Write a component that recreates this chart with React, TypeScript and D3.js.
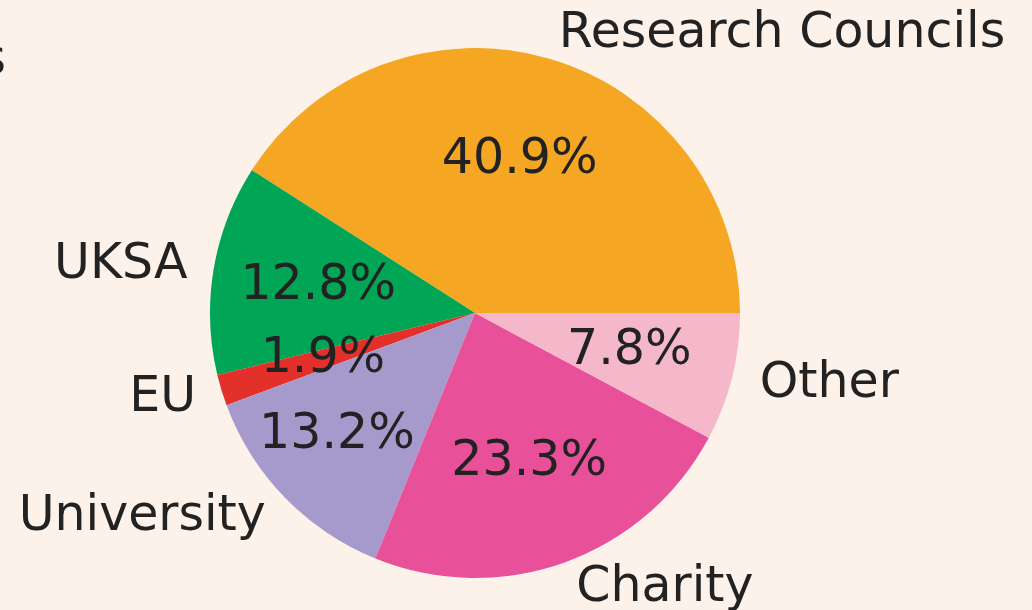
import React from 'react';
import * as d3 from 'd3';

const categories = ['Research Councils', 'UKSA', 'EU', 'University', 'Charity', 'Other'];
const shares = [40.9, 12.8, 1.9, 13.2, 23.3, 7.8];
const colors = ['#F5A623', '#00A555', '#E3302A', '#A59ACB', '#E8509A', '#F5B7CA'];

const W = 1032;
const H = 610;
const cx = 475;
const cy = 313;
const R = 265;

// the University percentage was pushed away from the EU one in the original
const pctNudge: Record<string, [number, number]> = { University: [-24, 12] };

export default function App() {
  // matplotlib style: counterclockwise from 3 o'clock
  const pie = d3.pie<number>()
    .sort(null)
    .value((d: number) => d)
    .startAngle(Math.PI / 2)
    .endAngle(Math.PI / 2 - 2 * Math.PI);

  const arcs = pie(shares);
  const arc = d3.arc<d3.PieArcDatum<number>>().innerRadius(0).outerRadius(R);

  const pos = (a: d3.PieArcDatum<number>, k: number) => {
    const m = (a.startAngle + a.endAngle) / 2;
    return [Math.sin(m) * R * k, -Math.cos(m) * R * k];
  };

  return (
    <svg width={W} height={H} style={{ position: 'fixed', left: 0, top: 0, background: '#FDF2E9' }}
      fontFamily="DejaVu Sans" fontSize={49} fill="#222">
      <text x={6} y={57} textAnchor="end" dominantBaseline="central">Funding Sources</text>
      <g transform={`translate(${cx},${cy})`}>
        {arcs.map((a, i) => (
          <path key={categories[i]} d={arc(a) || ''} fill={colors[i]} />
        ))}
        {arcs.map((a, i) => {
          const [x, y] = pos(a, 1.1);
          const dx = x > 0 ? 2 : 0;
          return (
            <text key={'l' + i} x={x + dx} y={y - 3} textAnchor={x > 0 ? 'start' : 'end'} dominantBaseline="central">
              {categories[i]}
            </text>
          );
        })}
        {arcs.map((a, i) => {
          const [x, y] = pos(a, 0.6);
          const [nx, ny] = pctNudge[categories[i]] || [0, 0];
          return (
            <text key={'p' + i} x={x + nx} y={y - 4 + ny} textAnchor="middle" dominantBaseline="central">
              {shares[i].toFixed(1)}%
            </text>
          );
        })}
      </g>
    </svg>
  );
}
